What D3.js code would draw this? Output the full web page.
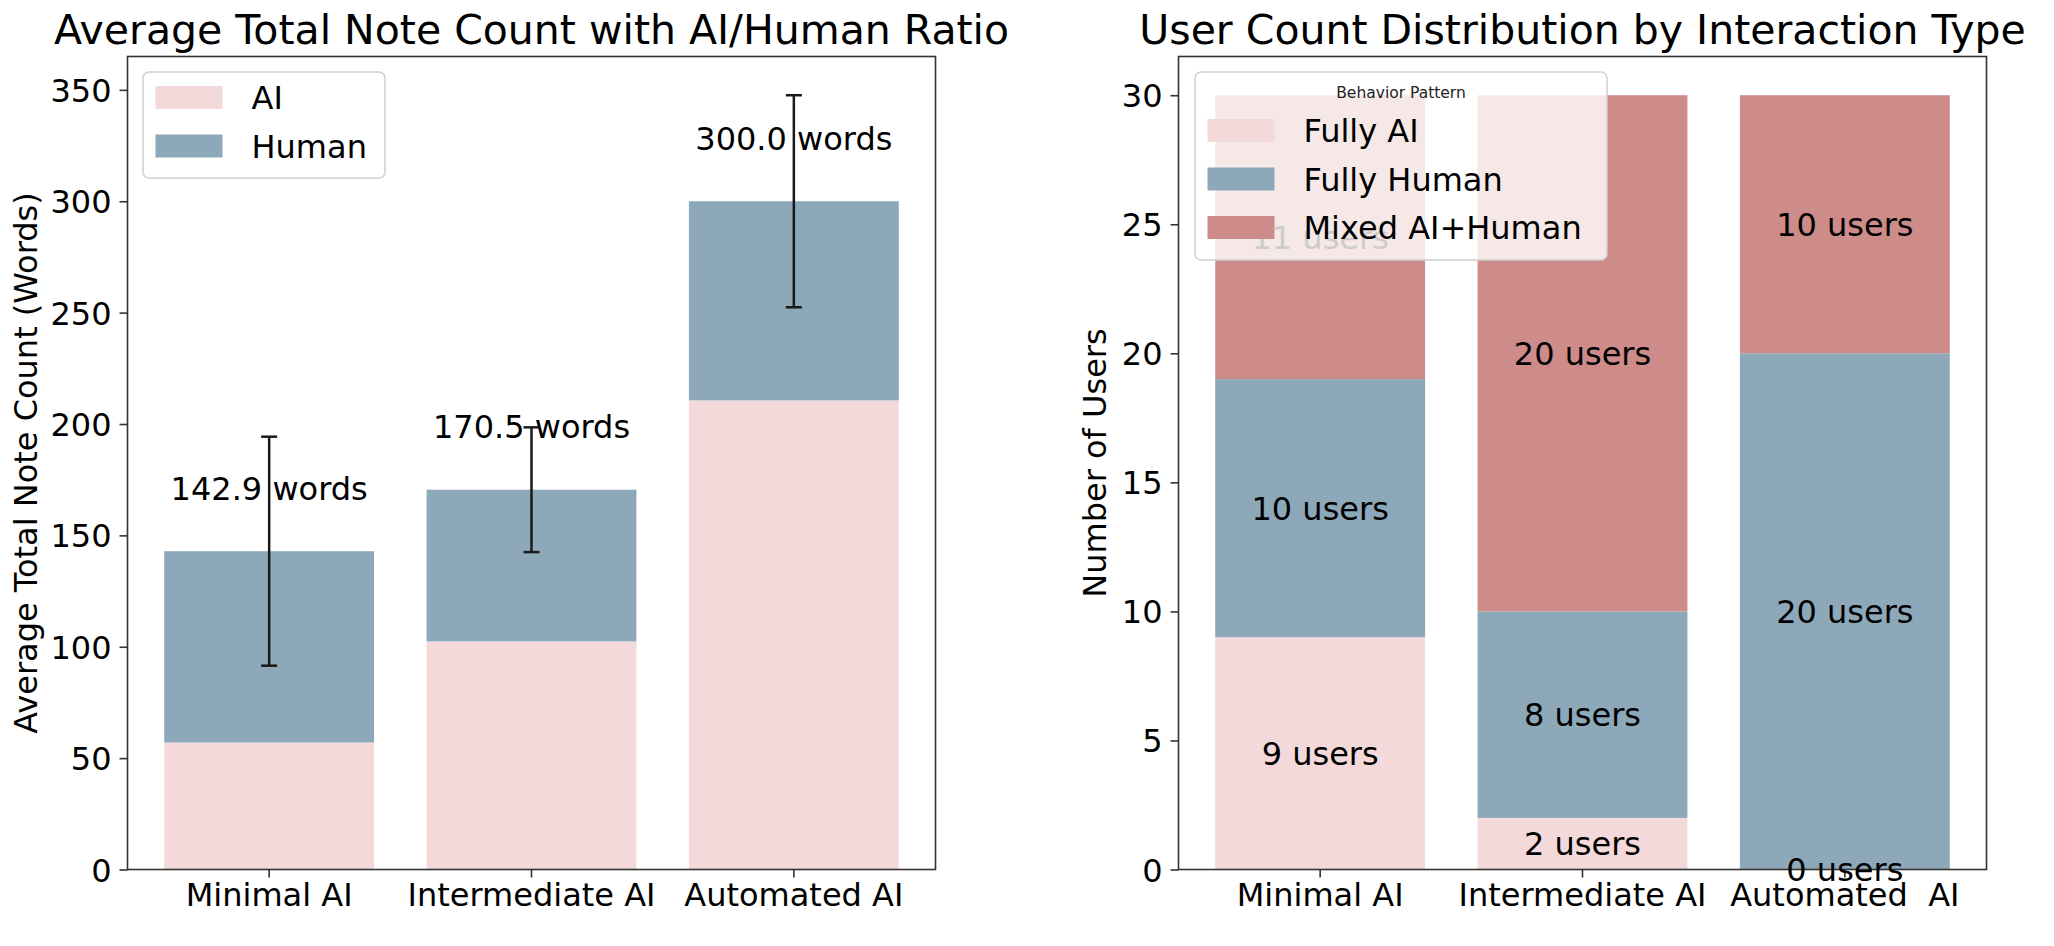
<!DOCTYPE html>
<html>
<head>
<meta charset="utf-8">
<script src="https://cdn.jsdelivr.net/npm/d3@7"></script>
<style>
  html, body { margin: 0; padding: 0; background: #fff; }
  svg { display: block; font-family: "DejaVu Sans", sans-serif; }
  text { white-space: pre; }
</style>
</head>
<body>
<svg id="chart" width="2054" height="946"></svg>
<script>
// ---------- data ----------
const categoriesLeft = ["Minimal AI", "Intermediate AI", "Automated AI"];
const aiWords = [57.0, 102.4, 210.6];
const humanWords = [85.9, 68.1, 89.4];
const wordErrors = [51.4, 28.0, 47.6];
const leftTicks = [0, 50, 100, 150, 200, 250, 300, 350];

const categoriesRight = ["Minimal AI", "Intermediate AI", "Automated  AI"];
const fullyAI = [9, 2, 0];
const fullyHuman = [10, 8, 20];
const mixedAIHuman = [11, 20, 10];
const rightTicks = [0, 5, 10, 15, 20, 25, 30];
const rightSeries = ["Fully AI", "Fully Human", "Mixed AI+Human"];
const leftSeries = ["AI", "Human"];

// ---------- styles ----------
const COL_AI = "#f4d9da";
const COL_HUMAN = "#8da8b9";
const COL_MIXED = "#cd8b89";
const FS = 32, FS_TITLE = 41;
const SPINE = "#333";

const svg = d3.select("#chart");
svg.append("rect").attr("width", 2054).attr("height", 946).attr("fill", "#fff");

function drawAxes(g, x, y, ticks, box, title, ylabel, ylabelX) {
  const ya = g.append("g").attr("transform", `translate(${box.l},0)`)
    .call(d3.axisLeft(y).tickValues(ticks).tickSize(8).tickPadding(8).tickSizeOuter(0));
  ya.select(".domain").remove();
  ya.selectAll(".tick line").attr("stroke", SPINE).attr("stroke-width", 1.6);
  ya.selectAll(".tick text").attr("font-size", FS).attr("fill", "#000")
    .attr("font-family", "DejaVu Sans").attr("dy", "0.36em");
  const xa = g.append("g").attr("transform", `translate(0,${box.b})`)
    .call(d3.axisBottom(x).tickSize(8).tickSizeOuter(0));
  xa.select(".domain").remove();
  xa.selectAll(".tick line").attr("stroke", SPINE).attr("stroke-width", 1.6);
  xa.selectAll(".tick text").attr("font-size", FS).attr("fill", "#000")
    .attr("font-family", "DejaVu Sans").attr("y", 36).attr("dy", 0);
  g.append("rect").attr("x", box.l).attr("y", box.t)
    .attr("width", box.r - box.l).attr("height", box.b - box.t)
    .attr("fill", "none").attr("stroke", SPINE).attr("stroke-width", 1.6);
  g.append("text").attr("x", (box.l + box.r) / 2).attr("y", 44)
    .attr("text-anchor", "middle").attr("font-size", FS_TITLE).text(title);
  g.append("text")
    .attr("transform", `translate(${ylabelX},${(box.t + box.b) / 2}) rotate(-90)`)
    .attr("text-anchor", "middle").attr("font-size", FS).text(ylabel);
}

function drawLegend(g, x0, y0, w, h, title, names, colors) {
  const lg = g.append("g").attr("transform", `translate(${x0},${y0})`);
  lg.append("rect").attr("width", w).attr("height", h).attr("rx", 6)
    .attr("fill", "#fff").attr("fill-opacity", 0.8)
    .attr("stroke", "#d0d0d0").attr("stroke-width", 1.5);
  let top = 14;
  if (title) {
    lg.append("text").attr("x", w / 2).attr("y", 26).attr("text-anchor", "middle")
      .attr("font-size", 15.5).attr("fill", "#222").text(title);
    top = 47;
  }
  names.forEach((n, i) => {
    const yy = top + i * 48.5;
    lg.append("rect").attr("x", 12.5).attr("y", yy).attr("width", 67).attr("height", 23)
      .attr("fill", colors[i]);
    lg.append("text").attr("x", 108.5).attr("y", yy + 11.5 + 11.7)
      .attr("font-size", FS).attr("fill", "#000").text(n);
  });
}

// ---------- LEFT ----------
{
  const box = { l: 127.5, r: 935.5, t: 56.5, b: 869.5 };
  const g = svg.append("g");
  const x = d3.scaleBand().domain(categoriesLeft).range([box.l, box.r])
    .paddingInner(0.2).paddingOuter(0.14);
  const totals = aiWords.map((a, i) => a + humanWords[i]);
  const ymax = d3.max(totals.map((t, i) => t + wordErrors[i])) * 1.05;
  const y = d3.scaleLinear().domain([0, ymax]).range([box.b, box.t]);

  const rows = categoriesLeft.map((c, i) => ({ cat: c, ai: aiWords[i], human: humanWords[i], err: wordErrors[i], total: totals[i] }));
  g.selectAll(".ai").data(rows).join("rect")
    .attr("x", d => x(d.cat)).attr("width", x.bandwidth())
    .attr("y", d => y(d.ai)).attr("height", d => y(0) - y(d.ai)).attr("fill", COL_AI);
  g.selectAll(".hu").data(rows).join("rect")
    .attr("x", d => x(d.cat)).attr("width", x.bandwidth())
    .attr("y", d => y(d.total)).attr("height", d => y(d.ai) - y(d.total)).attr("fill", COL_HUMAN);

  drawAxes(g, x, y, leftTicks, box, "Average Total Note Count with AI/Human Ratio",
    "Average Total Note Count (Words)", 37);

  g.selectAll(".lbl").data(rows).join("text")
    .attr("x", d => x(d.cat) + x.bandwidth() / 2).attr("y", d => y(d.total + 23))
    .attr("text-anchor", "middle").attr("font-size", FS)
    .text(d => d.total.toFixed(1) + " words");

  const eb = g.selectAll(".eb").data(rows).join("g")
    .attr("stroke", "#1a1a1a").attr("stroke-width", 2.5);
  eb.append("line")
    .attr("x1", d => x(d.cat) + x.bandwidth() / 2).attr("x2", d => x(d.cat) + x.bandwidth() / 2)
    .attr("y1", d => y(d.total - d.err)).attr("y2", d => y(d.total + d.err));
  [-1, 1].forEach(s => {
    eb.append("line")
      .attr("x1", d => x(d.cat) + x.bandwidth() / 2 - 8).attr("x2", d => x(d.cat) + x.bandwidth() / 2 + 8)
      .attr("y1", d => y(d.total + s * d.err)).attr("y2", d => y(d.total + s * d.err));
  });

  drawLegend(g, 143, 72, 242, 106, null, leftSeries, [COL_AI, COL_HUMAN]);
}

// ---------- RIGHT ----------
{
  const box = { l: 1178.5, r: 1986.5, t: 56.5, b: 869.5 };
  const g = svg.append("g");
  const x = d3.scaleBand().domain(categoriesRight).range([box.l, box.r])
    .paddingInner(0.2).paddingOuter(0.14);
  const rows = categoriesRight.map((c, i) => ({ cat: c, "Fully AI": fullyAI[i], "Fully Human": fullyHuman[i], "Mixed AI+Human": mixedAIHuman[i] }));
  const stacked = d3.stack().keys(rightSeries)(rows);
  const ymax = d3.max(rows, r => r["Fully AI"] + r["Fully Human"] + r["Mixed AI+Human"]) * 1.05;
  const y = d3.scaleLinear().domain([0, ymax]).range([box.b, box.t]);
  const colors = [COL_AI, COL_HUMAN, COL_MIXED];

  stacked.forEach((s, k) => {
    g.append("g").selectAll("rect").data(s).join("rect")
      .attr("x", d => x(d.data.cat)).attr("width", x.bandwidth())
      .attr("y", d => y(d[1])).attr("height", d => y(d[0]) - y(d[1]))
      .attr("fill", colors[k]);
  });

  drawAxes(g, x, y, rightTicks, box, "User Count Distribution by Interaction Type",
    "Number of Users", 1106);

  stacked.forEach((s, k) => {
    g.append("g").selectAll("text").data(s).join("text")
      .attr("x", d => x(d.data.cat) + x.bandwidth() / 2)
      .attr("y", d => y((d[0] + d[1]) / 2)).attr("dy", "0.36em")
      .attr("text-anchor", "middle").attr("font-size", FS)
      .text(d => (d[1] - d[0]) + " users");
  });

  drawLegend(g, 1195, 72, 412, 188, "Behavior Pattern", rightSeries, colors);
}
</script>
</body>
</html>
